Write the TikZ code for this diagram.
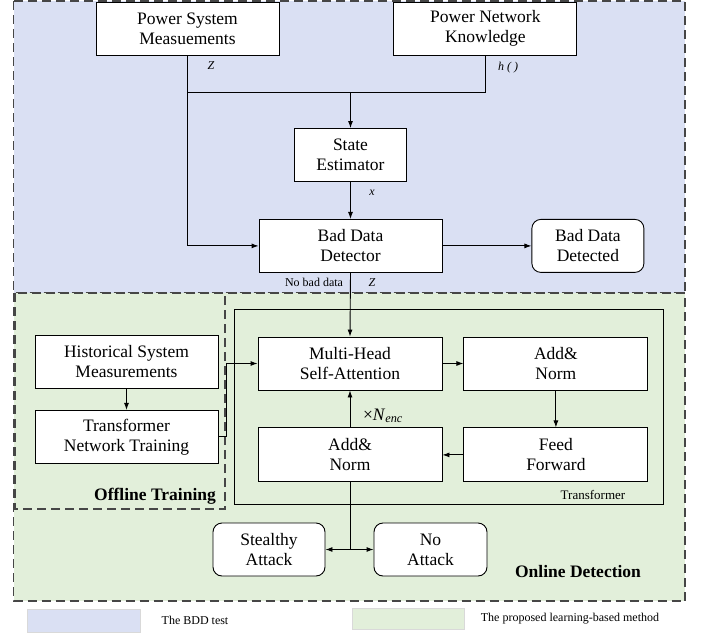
\documentclass[tikz,border=0pt]{standalone}
\usepackage{fontspec}
\setmainfont{Liberation Serif}
\usetikzlibrary{positioning,arrows.meta}
\definecolor{bddblue}{RGB}{218,224,243}
\definecolor{learngreen}{RGB}{226,239,218}
\definecolor{edgegray}{RGB}{70,70,70}

\begin{document}
\begin{tikzpicture}[x=1pt, y=-1pt, node distance=21pt, >={Latex[length=7pt,width=5pt]},
    box/.style = {draw, fill=white, line width=0.9pt, minimum width=183pt, minimum height=53pt,
                  inner sep=0pt, align=center, font=\fontsize{17.5}{20}\selectfont},
    halfbox/.style = {draw, fill=white, line width=0.9pt, minimum width=112pt, minimum height=53pt,
                  inner sep=0pt, align=center, font=\fontsize{17.5}{20}\selectfont},
    endbox/.style = {halfbox, rounded corners=9pt},
    region/.style = {draw=edgegray, line width=1.3pt, dash pattern=on 9pt off 5pt},
    lbl/.style = {inner sep=1pt, font=\fontsize{12}{14}\selectfont},
    var/.style = {lbl, font=\fontsize{12}{14}\selectfont\itshape},
    areatitle/.style = {inner sep=1pt, font=\fontsize{17.5}{20}\selectfont\bfseries},
    legendkey/.style = {draw=black!15, line width=0.8pt}]
    \useasboundingbox (0,0) rectangle (702,635);

    % the two parts of the scheme
    \draw[region, fill=bddblue]    (13.5,1) rectangle (685,293);
    \draw[region, fill=learngreen] (13.5,293) rectangle (685,601);
    \draw[region] (15,293) rectangle (225,509);
    \draw[line width=0.9pt] (234,309) rectangle (663,504);

    % BDD test
    \node[box] (psm) at (187.5,28.5) {Power System\\Measuements};
    \node[box] (pnk) [right=114pt of psm] {Power Network\\Knowledge};
    \node[halfbox] (se) at (350.5,155) {State\\Estimator};
    \node[box] (bdd) [below=37pt of se] {Bad Data\\Detector};
    \node[endbox] (bdt) [right=89pt of bdd] {Bad Data\\Detected};
    \coordinate (join) at (350.5,92);

    % learning-based method
    \node[box] (hsm) at (126.5,362) {Historical System\\Measurements};
    \node[box] (tnt) [below=21pt of hsm] {Transformer\\Network Training};
    \node[box, minimum width=184pt] (mhsa) at (350,363.5) {Multi-Head\\Self-Attention};
    \node[box, minimum width=184pt] (an1) [right=of mhsa] {Add\&\\Norm};
    \node[box, minimum width=184pt, minimum height=54pt] (ff) [below=37pt of an1] {Feed\\Forward};
    \node[box, minimum width=184pt, minimum height=54pt] (an2) [left=of ff] {Add\&\\Norm};
    \node[endbox] (sa) at (269,549.5) {Stealthy\\Attack};
    \node[endbox, minimum width=113pt] (na) at (430.5,549.5) {No\\Attack};
    \coordinate (split) at (350,549.5);

    \draw[line width=0.9pt] (pnk.south) |- (psm.south |- join);
    \draw[->, line width=0.9pt] (join) -- (se.north);
    \draw[->, line width=0.9pt] (psm.south) |- (bdd.west);
    \draw[->, line width=0.9pt] (se) -- (bdd);
    \draw[->, line width=0.9pt] (bdd) -- (bdt);
    \draw[->, line width=0.9pt] (bdd.south) -- (mhsa.north);
    \draw[->, line width=0.9pt] (hsm) -- (tnt);
    \draw[->, line width=0.9pt] (tnt.east) -- ++(8,0) |- (mhsa.west);
    \draw[->, line width=0.9pt] (mhsa) -- (an1);
    \draw[->, line width=0.9pt] (an1) -- (ff);
    \draw[->, line width=0.9pt] (ff) -- (an2);
    \draw[->, line width=0.9pt] (an2) -- (mhsa);
    \draw[line width=0.9pt] (an2.south) -- (split);
    \draw[<->, line width=0.9pt] (sa.east) -- (na.west);

    \node[var] (zin) at (211,66) {Z};
    \node[var] (hfun) at (508,68) {h ( )};
    \node[var] (xest) at (372,193) {x};
    \node[lbl] (nobad) at (314,282) {No bad data};
    \node[var] (zout) at (372,283) {Z};
    \node[inner sep=1pt, font=\fontsize{17.5}{20}\selectfont] (rep) at (383,416) {×\textit{N}\textsubscript{\textit{enc}}};
    \node[lbl, font=\fontsize{13}{15}\selectfont] (trf) at (593,495) {Transformer};
    \node[areatitle] (offt) at (155,496) {Offline Training};
    \node[areatitle] (onld) at (578,572) {Online Detection};

    % legend
    \draw[legendkey, fill=bddblue]    (27,609) rectangle (140,632);
    \node[lbl] (keyb) at (195,620) {The BDD test};
    \draw[legendkey, fill=learngreen] (352,608) rectangle (464,629);
    \node[lbl] (keyg) at (570,619) {The proposed learning-based method};
\end{tikzpicture}
\end{document}
